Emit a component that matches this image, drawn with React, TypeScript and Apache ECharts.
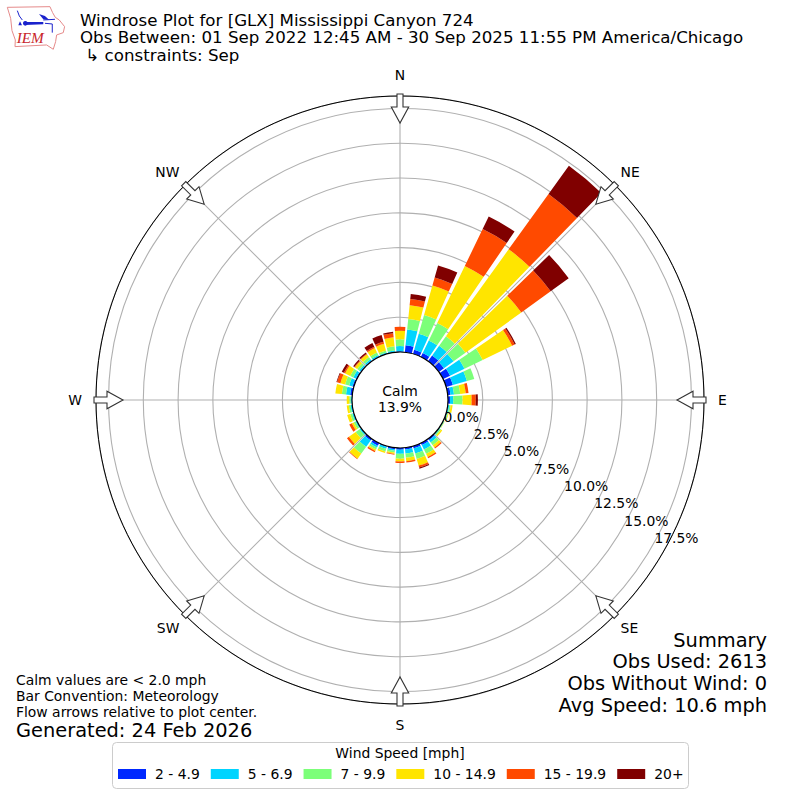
import React, { useEffect, useRef } from "react";
import * as echarts from "echarts";

const FONT = "DejaVu Sans";
const directions = Array.from({ length: 36 }, (_, i) => String(i * 10));
const speedBins = ["2 - 4.9", "5 - 6.9", "7 - 9.9", "10 - 14.9", "15 - 19.9", "20+"];
const binColors = ["#0028ff", "#00d4ff", "#7cff79", "#ffe500", "#ff4a00", "#800000"];

// percent of observations for each direction 0, 10, ... 350 degrees
const speed2to5 = [0.05, 0.5, 0.3, 0.3, 0.5, 0.45, 0.55, 0.5, 0.2, 0.15, 0.03, 0.02, 0.02, 0.03, 0.12, 0.15, 0.15, 0.12, 0.12, 0.1, 0.05, 0.2, 0.15, 0.03, 0.02, 0.02, 0.02, 0.02, 0.15, 0.1, 0.08, 0.05, 0.05, 0.05, 0.03, 0.03];
const speed5to7 = [0.38, 1.15, 1.2, 1.0, 0.86, 0.85, 1.15, 1.05, 0.25, 0.23, 0.08, 0.05, 0.04, 0.06, 0.2, 0.35, 0.4, 0.3, 0.3, 0.12, 0.15, 0.15, 0.55, 0.1, 0.08, 0.1, 0.1, 0.08, 0.3, 0.25, 0.2, 0.12, 0.12, 0.1, 0.07, 0.1];
const speed7to10 = [0.48, 0.75, 1.4, 1.4, 0.84, 1.05, 1.45, 0.55, 0.45, 0.67, 0.1, 0.06, 0.04, 0.1, 0.25, 0.35, 0.4, 0.3, 0.35, 0.13, 0.2, 0.15, 0.6, 0.35, 0.15, 0.15, 0.13, 0.1, 0.3, 0.3, 0.25, 0.18, 0.2, 0.2, 0.15, 0.3];
const speed10to15 = [0.62, 1.0, 2.2, 4.55, 7.7, 4.95, 2.35, 0, 0.4, 0.65, 0.14, 0.05, 0.02, 0.1, 0.2, 0.25, 0.5, 0.25, 0.2, 0.1, 0.1, 0.12, 0.45, 0.6, 0.15, 0.23, 0.15, 0.18, 0.47, 0.35, 0.4, 0.2, 0.23, 0.35, 0.5, 0.65];
const speed15to20 = [0.29, 0.45, 0.6, 2.95, 4.9, 2.6, 0.2, 0, 0.2, 0.3, 0, 0, 0, 0, 0.08, 0.1, 0.15, 0.1, 0.1, 0.05, 0, 0.1, 0.05, 0.17, 0.2, 0, 0, 0, 0, 0.25, 0.1, 0.05, 0.05, 0.1, 0.15, 0.3];
const speed20plus = [0, 0.35, 0.9, 1.0, 2.5, 1.6, 0.1, 0, 0, 0.15, 0, 0, 0, 0, 0, 0, 0.08, 0, 0, 0, 0, 0, 0, 0, 0, 0, 0, 0, 0, 0.05, 0.17, 0.1, 0.1, 0.3, 0.5, 0.1];
const binValues = [speed2to5, speed5to7, speed7to10, speed10to15, speed15to20, speed20plus];

const cardinalLabels: Record<number, string> = { 0: "N", 90: "E", 180: "S", 270: "W" };
const diagonalLabels: Record<number, string> = { 45: "NE", 135: "SE", 225: "SW", 315: "NW" };
const arrowBearings = [0, 45, 90, 135, 180, 225, 270, 315];

const titleLines = [
  "Windrose Plot for [GLX] Mississippi Canyon 724",
  "Obs Between: 01 Sep 2022 12:45 AM - 30 Sep 2025 11:55 PM America/Chicago",
  " \u21b3 constraints: Sep",
];
const summaryLines = ["Summary", "Obs Used: 2613", "Obs Without Wind: 0", "Avg Speed: 10.6 mph"];
const noteLines = ["Calm values are < 2.0 mph", "Bar Convention: Meteorology", "Flow arrows relative to plot center."];

const CX = 400, CY = 400, R0 = 48, R1 = 304, RMAX = 18.4;

const txt = (text: string, x: number, y: number, fontSize: number, extra: any = {}) => ({
  type: "text", x, y, z: 20, silent: true,
  style: { text, fontSize, fontFamily: FONT, fill: "#000", textAlign: "left", textVerticalAlign: "middle", ...extra },
});

const arrow = (bearing: number) => ({
  type: "polygon", x: CX, y: CY, z: 15, silent: true,
  rotation: (-bearing * Math.PI) / 180,
  shape: { points: [[-3, -306], [3, -306], [3, -293], [8.7, -293], [0, -277], [-8.7, -293], [-3, -293]] },
  style: { fill: "#fff", stroke: "#333", lineWidth: 1.1 },
});

const logo = {
  type: "group", x: 0, y: 0, scaleX: 1 / 3, scaleY: 1 / 3, z: 20, silent: true,
  children: [
    { type: "polygon", shape: { points: [[22, 22], [150, 20], [158, 38], [166, 52], [178, 60], [194, 80], [190, 98], [170, 105], [167, 125], [160, 148], [140, 135], [45, 140], [46, 120], [36, 92], [32, 55]] }, style: { fill: "#fff", stroke: "#e58a8a", lineWidth: 3 } },
    { type: "polygon", shape: { points: [[75, 66], [130, 66], [130, 73], [75, 75]] }, style: { fill: "#1a22cc" } },
    { type: "circle", shape: { cx: 76, cy: 70, r: 7 }, style: { fill: "#1a22cc" } },
    { type: "polygon", shape: { points: [[117, 42], [135, 48], [148, 60], [130, 58]] }, style: { fill: "#1a22cc" } },
    { type: "polyline", shape: { points: [[52, 32], [58, 48], [67, 60]] }, style: { stroke: "#1a22cc", lineWidth: 3, fill: "none" } },
    { type: "polyline", shape: { points: [[130, 60], [165, 58]] }, style: { stroke: "#1a22cc", lineWidth: 3, fill: "none" } },
    { type: "polyline", shape: { points: [[135, 70], [157, 72], [157, 98]] }, style: { stroke: "#1a22cc", lineWidth: 3, fill: "none" } },
    { type: "polygon", shape: { points: [[60, 64], [66, 76], [55, 76]] }, style: { fill: "#1a22cc" } },
    { type: "text", x: 50, y: 113, style: { text: "IEM", fontSize: 46, fontStyle: "italic", fontFamily: "Liberation Serif", fill: "#c8242a", textVerticalAlign: "middle" } },
  ],
};

export default function App() {
  const ref = useRef<HTMLDivElement>(null);
  useEffect(() => {
    const chart = echarts.init(ref.current!, undefined, { renderer: "svg" });
    const labelAngle = (polarIndex: number, margin: number, labels: Record<number, string>) => ({
      polarIndex, type: "value", min: 0, max: 360, interval: 45, startAngle: 90,
      axisLine: { show: false }, axisTick: { show: false }, splitLine: { show: false },
      axisLabel: {
        show: true, margin, fontSize: 13.9, color: "#000", fontFamily: FONT,
        formatter: (v: number) => labels[v] ?? "",
      },
    });
    chart.setOption({
      animation: false,
      backgroundColor: "#fff",
      textStyle: { fontFamily: FONT },
      polar: [
        { center: [CX, CY], radius: [R0, R1] },
        { center: [CX, CY], radius: [R0, R1] },
        { center: [CX, CY], radius: [R0 - 2, R1 - 2] },
        { center: [CX, CY], radius: [R0, R1] },
      ],
      angleAxis: [
        {
          ...labelAngle(0, 14, cardinalLabels),
          splitLine: { show: true, lineStyle: { color: "#b0b0b0", width: 1.1 } },
        },
        { polarIndex: 1, type: "category", data: directions, startAngle: 95, show: false },
        { polarIndex: 2, type: "value", min: 0, max: 360, startAngle: -30, show: false },
        labelAngle(3, 8, diagonalLabels),
      ],
      radiusAxis: [
        {
          polarIndex: 0, min: 0, max: RMAX, interval: 2.5,
          axisLine: { show: false }, axisTick: { show: false }, axisLabel: { show: false },
          splitLine: { show: true, lineStyle: { color: "#b0b0b0", width: 1.1 } },
        },
        { polarIndex: 1, min: 0, max: RMAX, show: false },
        {
          polarIndex: 2, min: 0, max: RMAX, interval: 2.5, z: 10,
          axisLine: { show: false }, axisTick: { show: false }, splitLine: { show: false },
          axisLabel: {
            show: true, showMaxLabel: false, margin: 7.5, fontSize: 13.9, color: "#000", fontFamily: FONT,
            align: "left", verticalAlign: "middle",
            formatter: (v: number) => (v > 17.5 ? "" : `${v.toFixed(1)}%`),
          },
        },
        { polarIndex: 3, min: 0, max: RMAX, show: false },
      ],
      legend: {
        left: 118, top: 767, padding: 0, icon: "rect", itemWidth: 28, itemHeight: 10, itemGap: 11, z: 30,
        data: speedBins, selectedMode: false,
        textStyle: { fontSize: 13.9, color: "#000", fontFamily: FONT, padding: [0, 0, 0, 4] },
      },
      series: speedBins.map((name, i) => ({
        name, type: "bar", coordinateSystem: "polar", polarIndex: 1, stack: "wind", barWidth: "84%",
        data: binValues[i], itemStyle: { color: binColors[i] }, silent: true,
      })),
      graphic: [
        { type: "circle", x: CX, y: CY, z: 12, silent: true, shape: { r: R0 }, style: { fill: "#fff", stroke: "#000", lineWidth: 1.2 } },
        { type: "circle", x: CX, y: CY, z: 12, silent: true, shape: { r: R1 }, style: { fill: "none", stroke: "#000", lineWidth: 1 } },
        ...arrowBearings.map(arrow),
        txt("Calm", CX, 391, 13.9, { textAlign: "center" }),
        txt("13.9%", CX, 407, 13.9, { textAlign: "center" }),
        logo,
        ...titleLines.map((t, i) => txt(t, 80, 20 + i * 17.6, 16.67)),
        ...summaryLines.map((t, i) => txt(t, 767, 640 + i * 21.8, 19.4, { textAlign: "right" })),
        ...noteLines.map((t, i) => txt(t, 16, 680 + i * 16, 13.9)),
        txt("Generated: 24 Feb 2026", 16, 730, 19.4),
        { type: "rect", z: 1, silent: true, shape: { x: 112.5, y: 742.5, width: 576, height: 46, r: 4 }, style: { fill: "#fff", stroke: "#ccc", lineWidth: 1 } },
        txt("Wind Speed [mph]", 400, 753, 13.9, { textAlign: "center" }),
      ],
    });
    return () => chart.dispose();
  }, []);
  return <div ref={ref} style={{ position: "fixed", left: 0, top: 0, width: 800, height: 800 }} />;
}
